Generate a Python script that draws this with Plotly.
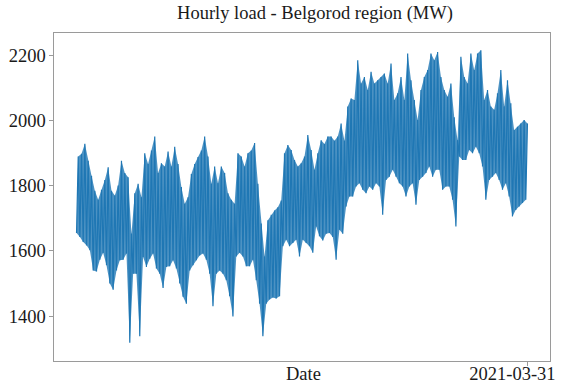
import pandas as pd
import plotly.graph_objects as go

# Envelope of the hourly load: for each sample, the
# low and high values (MW), in time order from 2020-04-01 to 2021-03-31.
load_high = [
    1890, 1898, 1929, 1877, 1831, 1785, 1757, 1788, 1818, 1857,
    1785, 1770, 1801, 1877, 1839, 1826, 1653, 1777, 1806, 1765,
    1900, 1867, 1908, 1951, 1839, 1869, 1859, 1905, 1859, 1920,
    1867, 1796, 1745, 1765, 1836, 1867, 1888, 1908, 1951, 1890,
    1806, 1859, 1808, 1859, 1839, 1777, 1757, 1745, 1900, 1890,
    1859, 1900, 1908, 1931, 1806, 1684, 1583, 1694, 1711, 1724,
    1734, 1755, 1900, 1925, 1910, 1879, 1859,
    1869, 1890, 1956, 1910, 1849, 1900, 1940, 1928, 1951, 1951,
    1938, 1951, 1991, 1938, 2043, 2068, 2063, 2185, 2114, 2134,
    2094, 2150, 2114, 2124, 2134, 2145, 2114, 2175, 2063, 2084,
    2134, 2063, 2206, 2124, 2063, 2002, 2094, 2134, 2155, 2206,
    2185, 2211, 2134, 2094, 2073, 2114, 2010, 1940, 2196, 2134,
    2114, 2206, 2155, 2206, 2216, 2063, 2094, 2043, 2033, 2084,
    2155, 2043, 2124, 2053, 1971, 1981, 1991, 2002, 1991,
]
load_low = [
    1655, 1643, 1627, 1617, 1602, 1540, 1537, 1573, 1594, 1556,
    1500, 1481, 1540, 1571, 1573, 1592, 1318, 1530, 1530, 1338,
    1581, 1551, 1576, 1592, 1546, 1530, 1486, 1551, 1553, 1571,
    1546, 1500, 1459, 1438, 1540, 1556, 1571, 1586, 1592, 1573,
    1530, 1430, 1530, 1540, 1530, 1510, 1461, 1399, 1583, 1594,
    1583, 1553, 1553, 1573, 1510, 1438, 1338, 1438, 1451, 1457,
    1454, 1461, 1614, 1634, 1614, 1624, 1634,
    1583, 1634, 1624, 1614, 1594, 1675, 1645, 1632, 1653, 1655,
    1643, 1573, 1665, 1653, 1736, 1767, 1767, 1798, 1808, 1788,
    1777, 1798, 1788, 1808, 1798, 1711, 1818, 1828, 1849, 1828,
    1808, 1798, 1767, 1798, 1808, 1742, 1818, 1828, 1839, 1859,
    1828, 1849, 1849, 1788, 1798, 1798, 1757, 1675, 1890, 1879,
    1879, 1910, 1900, 1920, 1900, 1859, 1757, 1818, 1828, 1839,
    1818, 1788, 1808, 1767, 1706, 1726, 1736, 1747, 1757,
]
start_date = "2020-04-01"
end_date = "2021-03-31"
x_tick_labels = ["2021-03-31"]
title_text = "Hourly load - Belgorod region (MW)"
y_tick_values = [1400, 1600, 1800, 2000, 2200]

# Interleave lows and highs into one time series
values = []
for lo, hi in zip(load_low, load_high):
    values.extend([lo, hi])
times = pd.date_range(start=start_date, end=end_date, periods=len(values))
low_times = times[0::2]
high_times = times[1::2]

span = times[-1] - times[0]
x_range = [times[0] - 0.05 * span, times[-1] + 0.05 * span]

FONT = "Liberation Serif, Times New Roman, serif"
FRAME = "#9a9a9a"
BLUE = "#1f77b4"
TXT = "#1a1a1a"
FS = 18.5

fig = go.Figure()
# dense band between daily lows and highs
fig.add_trace(go.Scatter(
    x=low_times, y=load_low, mode="lines",
    line=dict(color="rgba(0,0,0,0)", width=0), hoverinfo="skip",
))
fig.add_trace(go.Scatter(
    x=high_times, y=load_high, mode="lines", fill="tonexty",
    fillcolor="rgba(31,119,180,0.8)",
    line=dict(color="rgba(0,0,0,0)", width=0), hoverinfo="skip",
))
# the load series itself
fig.add_trace(go.Scatter(
    x=times, y=values, mode="lines",
    line=dict(color=BLUE, width=1.2), hoverinfo="skip",
))

fig.update_layout(
    width=562,
    height=385,
    margin=dict(l=54, r=12, t=33, b=24, autoexpand=False),
    paper_bgcolor="white",
    plot_bgcolor="white",
    showlegend=False,
    font=dict(family=FONT, size=FS, color=TXT),
    title=dict(
        text=title_text,
        x=315 / 562,
        xanchor="center",
        xref="container",
        y=1 - 6 / 385,
        yanchor="top",
        yref="container",
        font=dict(family=FONT, size=FS, color=TXT),
    ),
    annotations=[
        dict(
            text="Date",
            x=0.5035,
            xref="paper",
            xanchor="center",
            y=-0.002,
            yref="paper",
            yanchor="top",
            showarrow=False,
            font=dict(family=FONT, size=FS, color=TXT),
        )
    ],
)

fig.update_xaxes(
    range=x_range,
    automargin=False,
    tickmode="array",
    tickvals=[pd.Timestamp(end_date)],
    ticktext=x_tick_labels,
    ticks="outside",
    ticklen=3.5,
    tickcolor=FRAME,
    ticklabelshift=-15,
    ticklabelstandoff=-8,
    showline=True,
    linecolor=FRAME,
    linewidth=1.2,
    mirror=True,
    showgrid=False,
    zeroline=False,
)
fig.update_yaxes(
    range=[1262, 2269],
    automargin=False,
    tickmode="array",
    tickvals=y_tick_values,
    ticks="outside",
    ticklen=3.5,
    tickcolor=FRAME,
    showline=True,
    linecolor=FRAME,
    linewidth=1.2,
    mirror=True,
    showgrid=False,
    zeroline=False,
)

fig.write_html(
    "out.html",
    config={"displayModeBar": False},
    post_script="document.body.style.margin='0';",
)
